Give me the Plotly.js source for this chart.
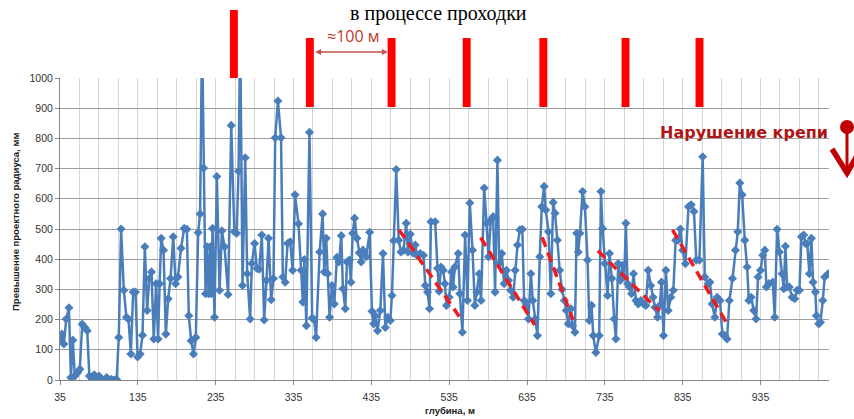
<!DOCTYPE html>
<html>
<head>
<meta charset="utf-8">
<script src="https://cdn.plot.ly/plotly-3.0.1.min.js"></script>
<style>html,body{margin:0;padding:0;background:#fff;}#chart{width:854px;height:419px;}</style>
</head>
<body>
<div id="chart"></div>
<script>
// Depth along the shaft (m)
const depth = [35,37.5,40,43,46.5,49,51.5,54,57.5,60.5,63.5,67,70,72.7,75.7,79,82,85,88.5,92,95,98,101,104.5,107.8,110.5,113.5,117,120.3,123,126,129,132,134.7,138,141,144,147,149.7,152.5,155.5,158.5,161,163,165,168,171,174,177,180.5,183.5,186.5,190.5,194.5,198,200.5,203.5,206.5,209.5,212.5,215,217.5,219.5,222,224,226,228,229.5,231,233.5,236.5,240,243,246.4,251,255,259,262,264.4,266.5,269.5,273,275.5,279.3,281.5,285,288,291,294.3,297.3,300.3,303,306.3,309.3,311.5,315,319,321.3,324.3,327.3,330.7,334,337,341.4,344.8,347,349,351.5,355.5,359,361.5,364,368.6,372.4,374.6,377,379,381.4,384.4,387.4,390.8,393.4,396.4,398.5,401.5,403.7,406.7,408.8,411,413.5,416.5,419.5,422,424.2,426.3,428.5,432.8,435.8,438,440,443,446.5,450,453,456,459.4,461.5,463.6,467,470.2,473,476.4,479.8,482,485,488.4,491.4,493.6,497.8,502,504.3,507.2,509.8,511.6,517,520,522,524.5,527.3,529.5,531.6,535,538,540,542.3,546.6,548.7,552,555.5,558.5,561.5,565,568,570.5,573.5,576,580,583,585.5,588.5,591.5,594,597,599.2,602.6,605.6,608.6,611.2,614,617.2,619.8,622.8,625.8,629,631.3,634,636.9,639.9,642.5,645.4,648.4,651.4,654,657,659.1,662.6,665.6,668.6,671,674,677,680,683,685.5,688,691.4,693.6,696.6,698.7,700.8,703,706.4,709.4,712.8,715,718,720.1,723.5,727.8,730,732,735,738.5,741,744,747,749.2,752.2,754.8,757.8,760,762,764.2,766.5,769.3,771.9,774.9,777.9,781.3,784.7,787.7,790.7,794,797,799.3,802.7,805.7,807.8,810.4,813.4,816.4,819.8,823,826,829,832,835,838.5,842.5,846,849.5,852.5,856.5,860.7,863.4,867.7,870,872.8,876.3,879.3,883,886,889,892,895,899,902.8,905.8,908.4,911.4,914.8,917.8,920,923,926.3,929.3,931.9,935,937.9,940.5,942.6,945.6,950.8,953.3,956.3,959.3,962.7,964.9,967,969.2,972,975.6,979,982,985,987.6,990.5,992.7,995,997.8,1000.4,1002.5,1005.5,1006.8,1009.8,1012,1015,1017.5,1021.8];
// Excess over design radius (mm)
const excess = [130,152,119,202,239,8,132,13,24,36,185,174,163,13,8,17,2,13,2,0,8,0,2,0,2,141,500,297,208,202,86,291,291,76,86,148,441,230,336,358,136,319,136,319,469,430,152,269,336,474,319,341,436,502,499,213,130,86,141,488,550,1150,702,286,441,286,441,286,502,208,674,297,494,441,283,843,491,486,691,1150,313,736,352,202,386,452,369,367,480,199,330,469,266,336,802,924,802,341,324,452,458,363,613,517,363,258,399,180,820,205,200,141,424,550,358,469,352,208,313,252,406,391,478,302,236,391,397,324,486,536,469,421,391,430,421,408,489,228,186,213,163,230,419,174,208,197,280,461,697,463,424,430,519,424,483,421,447,413,419,413,313,291,236,524,524,370,294,374,363,319,247,274,358,308,374,419,286,158,480,263,586,430,247,291,352,263,636,519,408,530,541,291,728,386,419,319,363,330,297,274,363,447,497,499,263,252,202,352,263,202,147,408,574,641,563,491,286,588,552,463,363,300,263,230,186,236,180,158,486,424,486,624,574,397,197,247,147,91,147,624,502,386,280,419,336,202,136,386,330,380,341,519,319,308,286,352,263,252,263,252,247,363,313,274,241,208,247,324,147,363,230,274,297,463,463,500,430,385,574,580,558,397,397,739,341,319,324,252,208,274,263,152,147,136,263,336,430,491,652,613,463,374,263,274,230,202,341,363,413,430,308,319,324,208,499,424,352,302,443,308,308,274,269,297,297,474,480,452,452,352,469,324,291,213,186,191,263,341,352];
// Red dashed trend segments (support failure zones)
const trendX = [470.6,548,null,575.4,644.8,null,654.6,694,null,726,805,null,822,893];
const trendY = [497,210,null,472,182,null,472,199,null,428,229,null,497,182];
// Depths of red support markers above the plot
const markerDepths = [258.4,356,461,557.5,656,761.6,856.6];
const xTickVals = [35,135,235,335,435,535,635,735,835,935];

const L = 60, R = 829, T = 78, B = 380;
const PX = px => (px - L) / (R - L);
const PY = py => (B - py) / (B - T);

const blue = '#4a7ebb';
const dark = '#c00000';

const traces = [
  {x: depth, y: excess, type: 'scatter', mode: 'lines+markers',
   line: {color: blue, width: 2.5},
   marker: {symbol: 'diamond', size: 7, color: blue},
   hoverinfo: 'x+y', showlegend: false},
  {x: trendX, y: trendY, type: 'scatter', mode: 'lines',
   line: {color: '#ee1c1c', width: 3.5, dash: '10px,6px'},
   connectgaps: false, hoverinfo: 'skip', showlegend: false}
];

const shapes = [];
markerDepths.forEach((d, i) => {
  shapes.push({type: 'rect', xref: 'x', yref: 'paper',
    x0: d - 5.1, x1: d + 5.1,
    y0: i === 0 ? PY(78) : PY(107), y1: i === 0 ? PY(10) : PY(38),
    fillcolor: '#ff0000', line: {width: 0}, layer: 'above'});
});
// failure symbol: circle + stem + chevron
shapes.push({type: 'line', xref: 'paper', yref: 'paper',
  x0: PX(847), x1: PX(847), y0: PY(127), y1: PY(171),
  line: {color: dark, width: 3}});
shapes.push({type: 'path', xref: 'paper', yref: 'paper',
  path: `M ${PX(832)} ${PY(149)} L ${PX(847)} ${PY(173)} L ${PX(861)} ${PY(149)}`,
  line: {color: dark, width: 5.5}});
shapes.push({type: 'circle', xref: 'paper', yref: 'paper',
  x0: PX(840), x1: PX(854), y0: PY(134), y1: PY(120),
  fillcolor: dark, line: {color: dark, width: 0}});

const annotations = [
  {text: 'в процессе проходки', xref: 'paper', yref: 'paper',
   x: PX(438), y: PY(0), xanchor: 'center', yanchor: 'top', showarrow: false,
   font: {family: 'Liberation Serif', size: 20, color: '#000'}},
  {text: '≈100 м', xref: 'x', yref: 'paper', x: 411, y: PY(36),
   xanchor: 'center', yanchor: 'middle', showarrow: false,
   font: {family: 'Open Sans', size: 16, color: '#c0392b'}},
  {text: '', xref: 'x', yref: 'paper', x: 456, y: PY(52),
   axref: 'x', ax: 361, ayref: 'pixel', ay: 0,
   showarrow: true, arrowside: 'end+start', arrowhead: 2, startarrowhead: 2,
   arrowsize: 0.9, startarrowsize: 0.9, arrowwidth: 1.3, arrowcolor: '#c0504d'},
  {text: '<b>Нарушение крепи</b>', xref: 'paper', yref: 'paper',
   x: PX(830), y: PY(132), xanchor: 'right', yanchor: 'middle', showarrow: false,
   font: {family: 'DejaVu Sans', size: 16, color: '#b01515'}},
  {text: '<b>Превышение проектного радиуса, мм</b>', xref: 'paper', yref: 'paper',
   x: PX(15), y: PY(222), textangle: -90, xanchor: 'center', yanchor: 'middle',
   showarrow: false, font: {family: 'Liberation Sans', size: 9.5, color: '#222'}},
  {text: '<b>глубина, м</b>', xref: 'paper', yref: 'paper',
   x: PX(450), y: PY(410), xanchor: 'center', yanchor: 'middle',
   showarrow: false, font: {family: 'Liberation Sans', size: 9.5, color: '#222'}}
];

const layout = {
  width: 854, height: 419,
  margin: {l: L, r: 854 - R, t: T, b: 419 - B},
  paper_bgcolor: '#fff', plot_bgcolor: '#fff',
  showlegend: false,
  xaxis: {
    range: [35, 1023], tickmode: 'array', tickvals: xTickVals,
    ticktext: xTickVals.map(String),
    showgrid: true, gridcolor: '#d4d4d4', gridwidth: 1,
    minor: {tick0: 35, dtick: 25, showgrid: true, gridcolor: '#d4d4d4', gridwidth: 1},
    showline: true, linecolor: '#868686', linewidth: 1,
    ticks: 'outside', ticklen: 4, tickcolor: '#868686',
    zeroline: false, ticklabelstandoff: 3,
    tickfont: {family: 'Liberation Sans', size: 10.5, color: '#333'}
  },
  yaxis: {
    range: [0, 1000], dtick: 100, tick0: 0,
    showgrid: true, gridcolor: '#9e9e9e', gridwidth: 1,
    showline: true, linecolor: '#868686', linewidth: 1,
    ticks: 'outside', ticklen: 4, tickcolor: '#868686',
    zeroline: false,
    tickfont: {family: 'Liberation Sans', size: 10.5, color: '#333'}
  },
  shapes: shapes,
  annotations: annotations
};

Plotly.newPlot('chart', traces, layout, {staticPlot: true, displayModeBar: false});
</script>
</body>
</html>
